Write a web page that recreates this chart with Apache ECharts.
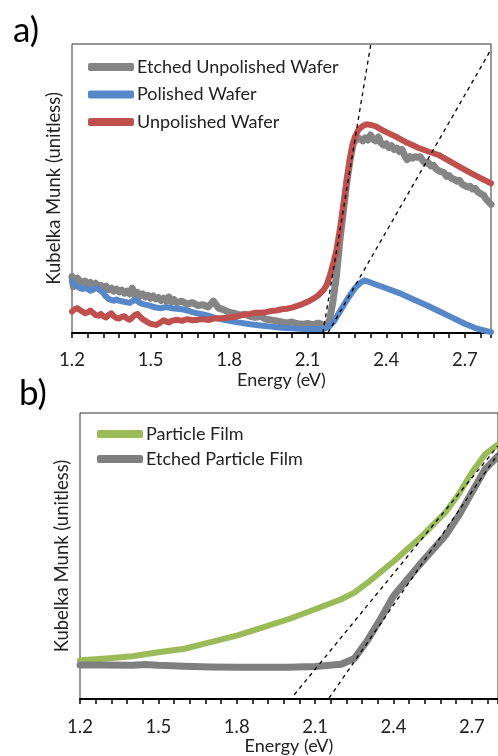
<!DOCTYPE html>
<html>
<head>
<meta charset="utf-8">
<script src="https://cdn.jsdelivr.net/npm/echarts@6/dist/echarts.min.js"></script>
<style>
    html, body { margin: 0; padding: 0; background: #fff; }
    #main { width: 498px; height: 756px; }
</style>
</head>
<body>
<div id="main"></div>
<script>
// panel a) wafers: [energy eV, Kubelka Munk a.u.]
var etchedUnpolished = [
    [1.2,19.5],[1.205,16],[1.21,18.5],[1.22,19],[1.23,18],[1.24,17.5],[1.25,18],[1.26,17],[1.27,17.5],[1.28,16.5],
    [1.29,17.2],[1.3,16],[1.31,16.5],[1.32,15.5],[1.33,16.2],[1.34,15],[1.35,15.5],[1.36,14.5],[1.37,15.2],[1.38,14.2],
    [1.39,14.8],[1.4,13.8],[1.41,14.5],[1.42,13.5],[1.43,15.5],[1.44,13.2],[1.45,14],[1.46,12.8],[1.47,13.5],[1.48,12.5],
    [1.49,13],[1.5,12],[1.51,12.8],[1.52,11.8],[1.53,12.3],[1.54,11.2],[1.55,12],[1.56,11],[1.57,12.5],[1.58,10.8],
    [1.59,11.5],[1.6,10.5],[1.62,11],[1.64,10],[1.66,10.5],[1.68,9.5],[1.7,9.8],[1.72,9],[1.74,11],[1.76,8.6],
    [1.78,8],[1.8,7.2],[1.82,6.8],[1.84,6.2],[1.86,6.5],[1.88,5.8],[1.9,5.4],[1.92,5.8],[1.94,4.8],[1.96,4.5],
    [1.98,4.2],[2.0,3.8],[2.02,3.5],[2.04,3.8],[2.06,3.2],[2.08,3],[2.1,3.3],[2.12,2.8],[2.14,3.4],[2.16,2.8],
    [2.175,2.6],[2.185,5],[2.197,11.4],[2.21,20],[2.223,32],[2.236,42],[2.249,52],[2.262,60],[2.274,65.6],[2.29,67.5],
    [2.3,67.2],[2.31,66.5],[2.32,67.5],[2.33,66.8],[2.34,68.5],[2.35,67],[2.36,66.5],[2.37,67.8],[2.38,65.8],[2.39,65],
    [2.4,65.5],[2.41,64.2],[2.42,64.8],[2.43,63.5],[2.44,64],[2.45,62.8],[2.46,63.5],[2.47,61.5],[2.48,60],[2.49,61],
    [2.5,60.5],[2.51,61],[2.52,60.8],[2.53,61],[2.54,59.5],[2.55,58.8],[2.56,59],[2.57,57.8],[2.58,58],[2.59,56.8],
    [2.6,56.2],[2.61,55.8],[2.62,55.5],[2.63,54.2],[2.64,54.5],[2.65,53.5],[2.66,53.2],[2.67,52.5],[2.68,52.8],[2.69,51.5],
    [2.7,51],[2.71,50.5],[2.72,50.8],[2.73,49.8],[2.74,50],[2.75,48.8],[2.76,48.2],[2.77,47.8],[2.78,46.5],[2.79,45.5],
    [2.8,44.5]
];
var polished = [
    [1.2,17.8],[1.21,16.8],[1.22,16.2],[1.23,15.6],[1.24,15.2],[1.25,15.6],[1.26,15.2],[1.27,14.6],[1.28,15],[1.29,15.6],
    [1.3,15.2],[1.31,14.6],[1.32,13.8],[1.33,12.6],[1.34,11.8],[1.35,11.4],[1.36,11.2],[1.37,11.6],[1.38,11.2],[1.39,11],
    [1.4,10.8],[1.41,10.6],[1.42,10.4],[1.43,11],[1.44,11.6],[1.45,11],[1.46,10.4],[1.47,10],[1.48,9.8],[1.5,9.4],
    [1.52,8.8],[1.54,8.6],[1.56,9],[1.58,8.6],[1.6,8.4],[1.62,8.2],[1.64,7.8],[1.66,7.2],[1.68,6.8],[1.7,6.4],
    [1.72,6],[1.74,5.4],[1.76,5],[1.78,4.6],[1.8,4.2],[1.84,3.6],[1.88,3],[1.92,2.6],[1.96,2.2],[2.0,1.8],
    [2.04,1.6],[2.08,1.4],[2.12,1.4],[2.16,1.4],[2.18,2],[2.2,4],[2.22,7],[2.25,11.5],[2.28,15.5],[2.3,17.3],
    [2.315,18.2],[2.33,17.8],[2.36,16.8],[2.4,15.5],[2.45,13.8],[2.5,11.8],[2.55,9.8],[2.6,7.6],[2.65,5.4],[2.7,3.2],
    [2.75,1.4],[2.8,0.3]
];
var unpolished = [
    [1.2,7.4],[1.21,8.2],[1.22,8.6],[1.23,8],[1.24,7.4],[1.25,6.8],[1.26,7.2],[1.27,7.8],[1.28,7],[1.29,6.2],
    [1.3,6],[1.31,6.6],[1.32,5.8],[1.33,5.4],[1.34,6.2],[1.35,6.8],[1.36,5.8],[1.37,5.2],[1.38,5],[1.39,5.6],
    [1.4,5.8],[1.41,5],[1.42,4.6],[1.43,5.4],[1.44,6.2],[1.45,6.6],[1.46,5.6],[1.47,4.8],[1.48,4.2],[1.49,3.6],
    [1.5,3.2],[1.51,3],[1.52,2.8],[1.53,3.2],[1.54,3.8],[1.55,4.4],[1.56,4],[1.57,3.6],[1.58,4.2],[1.6,4.6],
    [1.62,4.2],[1.64,4.8],[1.66,4.4],[1.68,4.6],[1.7,4.8],[1.72,4.5],[1.74,5],[1.76,5],[1.78,5.2],[1.8,5.4],
    [1.82,5.5],[1.84,6],[1.86,6.4],[1.88,6.6],[1.9,7],[1.92,7],[1.94,7.2],[1.96,7.6],[1.98,7.8],[2.0,8.2],
    [2.02,8.4],[2.04,8.8],[2.06,9.4],[2.08,10],[2.1,10.8],[2.12,11.8],[2.14,13],[2.16,14.8],[2.172,16.5],[2.185,20],
    [2.2,25],[2.21,28.7],[2.223,36],[2.235,43.7],[2.248,52],[2.261,59.9],[2.27,64.5],[2.28,67.9],[2.295,70.5],[2.31,71.6],
    [2.325,72.2],[2.34,72],[2.36,71.5],[2.38,70.5],[2.4,69.5],[2.44,67.8],[2.48,65.8],[2.52,64.2],[2.56,62.8],[2.6,61.6],
    [2.64,59.6],[2.68,57.5],[2.72,55.5],[2.76,53.6],[2.8,51.8]
];
var fitA1 = [[2.158,0],[2.341,100]];
var fitA2 = [[2.177,0],[2.795,97.3]];

// panel b) films
var particleFilm = [
    [1.2,13.6],[1.3,14.2],[1.4,15],[1.5,16.4],[1.6,17.6],[1.7,19.9],[1.8,22.2],[1.9,25.1],[2.0,28],[2.1,31.4],
    [2.2,34.9],[2.25,37.2],[2.3,40.6],[2.4,48.1],[2.5,56.2],[2.6,65.4],[2.65,71.7],[2.7,79.2],[2.75,85.5],[2.8,89]
];
var etchedParticleFilm = [
    [1.2,11.9],[1.3,11.9],[1.4,11.8],[1.45,12.1],[1.5,11.8],[1.6,11.5],[1.7,11.2],[1.8,11.1],[1.9,11.1],[2.0,11.1],
    [2.1,11.4],[2.2,12.2],[2.25,14.2],[2.3,20.5],[2.35,28],[2.4,36],[2.5,47],[2.6,57.3],[2.65,64.2],[2.7,72.3],
    [2.75,80.3],[2.8,85]
];
var fitB1 = [[2.02,1.5],[2.8,88.5]];
var fitB2 = [[2.153,0.3],[2.8,85.7]];

var energyMin = 1.2, energyMax = 2.8;
var font = 'Lato, "Open Sans", sans-serif';

var dom = document.getElementById('main');
var myChart = echarts.init(dom);

// two x axes per panel: labelled one with outer ticks, plain one with inner minor ticks
function xAxes(grid, nameGap) {
    return [{
        gridIndex: grid, type: 'value', min: energyMin, max: energyMax, interval: 0.3,
        name: 'Energy (eV)', nameLocation: 'middle', nameGap: nameGap,
        nameTextStyle: { fontFamily: font, fontSize: 18, color: '#222' },
        axisLine: { show: true, onZero: false, lineStyle: { color: '#000', width: 2 } },
        axisTick: { show: true, inside: false, length: 5, lineStyle: { color: '#000', width: 1.5 } },
        axisLabel: { fontFamily: font, fontSize: 18.5, color: '#222', margin: 18, showMaxLabel: false },
        splitLine: { show: false }
    }, {
        gridIndex: grid, type: 'value', min: energyMin, max: energyMax, interval: 0.06,
        axisLine: { show: false },
        axisTick: { show: true, inside: true, length: 5, lineStyle: { color: '#000', width: 1.5 } },
        axisLabel: { show: false },
        splitLine: { show: false }
    }];
}

function yAxis(grid) {
    return {
        gridIndex: grid, type: 'value', min: 0, max: 100,
        name: 'Kubelka Munk (unitless)', nameLocation: 'middle', nameGap: 8,
        nameTextStyle: { fontFamily: font, fontSize: 18.5, color: '#222' },
        axisLine: { show: false }, axisTick: { show: false },
        axisLabel: { show: false }, splitLine: { show: false }
    };
}

function curve(name, data, color, width, xi, yi) {
    return {
        name: name, type: 'line', data: data, xAxisIndex: xi, yAxisIndex: yi,
        showSymbol: false, symbol: 'none',
        lineStyle: { color: color, width: width, cap: 'round', join: 'round' },
        itemStyle: { color: color }
    };
}

function fitLine(data, xi, yi) {
    return {
        type: 'line', data: data, xAxisIndex: xi, yAxisIndex: yi, symbol: 'none', silent: true,
        lineStyle: { color: '#000', width: 1.3, type: [4, 4] }
    };
}

var option = {
    animation: false,
    backgroundColor: '#fff',
    title: [
        { text: 'a)', left: 8, top: 8, textStyle: { fontFamily: font, fontSize: 35, fontWeight: 'normal', color: '#000' } },
        { text: 'b)', left: 14, top: 371, textStyle: { fontFamily: font, fontSize: 35, fontWeight: 'normal', color: '#000' } }
    ],
    legend: [{
        orient: 'vertical', left: 83, top: 52, itemWidth: 46, itemHeight: 8, itemGap: 7.5,
        icon: 'roundRect',
        textStyle: { fontFamily: font, fontSize: 18, color: '#222', lineHeight: 20, padding: [0, 0, 0, -2] },
        data: ['Etched Unpolished Wafer', 'Polished Wafer', 'Unpolished Wafer']
    }, {
        orient: 'vertical', left: 92, top: 419, itemWidth: 46, itemHeight: 8, itemGap: 5,
        icon: 'roundRect',
        textStyle: { fontFamily: font, fontSize: 18, color: '#222', lineHeight: 20, padding: [0, 0, 0, -2] },
        data: ['Particle Film', 'Etched Particle Film']
    }],
    grid: [
        { left: 72, top: 44, width: 419, height: 289, show: true, borderColor: '#333', borderWidth: 1, backgroundColor: 'transparent' },
        { left: 80, top: 413, width: 420, height: 290, show: true, borderColor: '#333', borderWidth: 1, backgroundColor: 'transparent' }
    ],
    xAxis: xAxes(0, 36).concat(xAxes(1, 33)),
    yAxis: [yAxis(0), yAxis(1)],
    series: [
        curve('Etched Unpolished Wafer', etchedUnpolished, '#858585', 7, 0, 0),
        curve('Polished Wafer', polished, '#5687c8', 6, 0, 0),
        curve('Unpolished Wafer', unpolished, '#c0504d', 6, 0, 0),
        fitLine(fitA1, 0, 0),
        fitLine(fitA2, 0, 0),
        curve('Particle Film', particleFilm, '#9bbb59', 6, 2, 1),
        curve('Etched Particle Film', etchedParticleFilm, '#7f7f7f', 7, 2, 1),
        fitLine(fitB1, 2, 1),
        fitLine(fitB2, 2, 1)
    ]
};

if (option && typeof option === "object") {
    myChart.setOption(option, true);
}
</script>
</body>
</html>
